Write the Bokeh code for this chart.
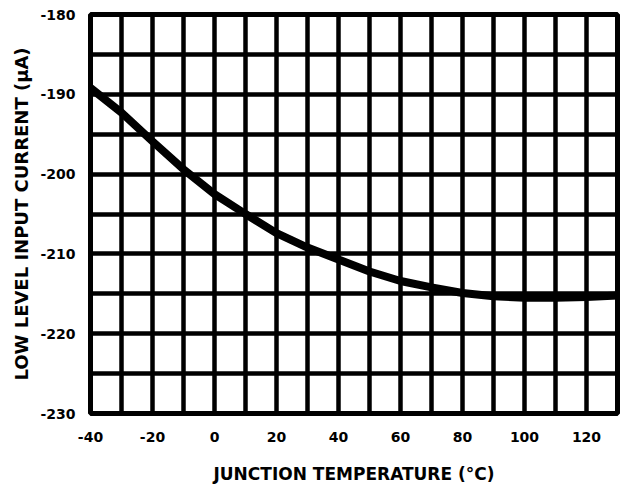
from bokeh.plotting import figure
from bokeh.models import FixedTicker, SingleIntervalTicker, Range1d, PrintfTickFormatter
from bokeh.embed import file_html
from bokeh.resources import INLINE

temperature_c = [-40, -30, -20, -10, 0, 10, 20, 30, 40, 50, 60, 70, 80, 90, 100, 110, 120, 130]
input_current_ua = [-189.2, -192.3, -195.9, -199.4, -202.5, -205.0, -207.4, -209.2, -210.7,
                    -212.2, -213.4, -214.2, -214.9, -215.3, -215.5, -215.5, -215.4, -215.2]
x_tick_labels = [-40, -20, 0, 20, 40, 60, 80, 100, 120]
y_tick_labels = [-230, -220, -210, -200, -190, -180]
x_title = "JUNCTION TEMPERATURE (°C)"
y_title = "LOW LEVEL INPUT CURRENT (µA)"

FONT = "DejaVu Sans"

p = figure(width=624, height=487, output_backend="svg", toolbar_location=None,
           x_range=Range1d(-40, 130), y_range=Range1d(-230, -180),
           min_border_left=90, min_border_right=7, min_border_top=14, min_border_bottom=74)

p.line(temperature_c, input_current_ua, line_color="black", line_width=8)

p.outline_line_color = "black"
p.outline_line_width = 5

p.xgrid.ticker = SingleIntervalTicker(interval=10)
p.ygrid.ticker = SingleIntervalTicker(interval=5)
for g in (p.xgrid, p.ygrid):
    g.grid_line_color = "black"
    g.grid_line_width = 4.5
    g.grid_line_alpha = 1.0

p.xaxis.ticker = FixedTicker(ticks=x_tick_labels)
p.yaxis.ticker = FixedTicker(ticks=y_tick_labels)
p.xaxis.formatter = PrintfTickFormatter(format="%d")
p.yaxis.formatter = PrintfTickFormatter(format="%d")

for ax in (p.xaxis, p.yaxis):
    ax.axis_line_color = None
    ax.major_tick_line_color = None
    ax.minor_tick_line_color = None
    ax.major_label_text_font = FONT
    ax.major_label_text_font_style = "bold"
    ax.major_label_text_font_size = "14px"
    ax.major_label_text_color = "black"
    ax.axis_label_text_font = FONT
    ax.axis_label_text_font_style = "bold"
    ax.axis_label_text_color = "black"

p.xaxis.axis_label = x_title
p.xaxis.axis_label_text_font_size = "17px"
p.xaxis.major_label_standoff = 12
p.xaxis.axis_label_standoff = 19

p.yaxis.axis_label = y_title
p.yaxis.axis_label_text_font_size = "18px"
p.yaxis.major_label_standoff = 9
p.yaxis.axis_label_standoff = 5

open("out.html", "w").write(file_html(p, INLINE))
